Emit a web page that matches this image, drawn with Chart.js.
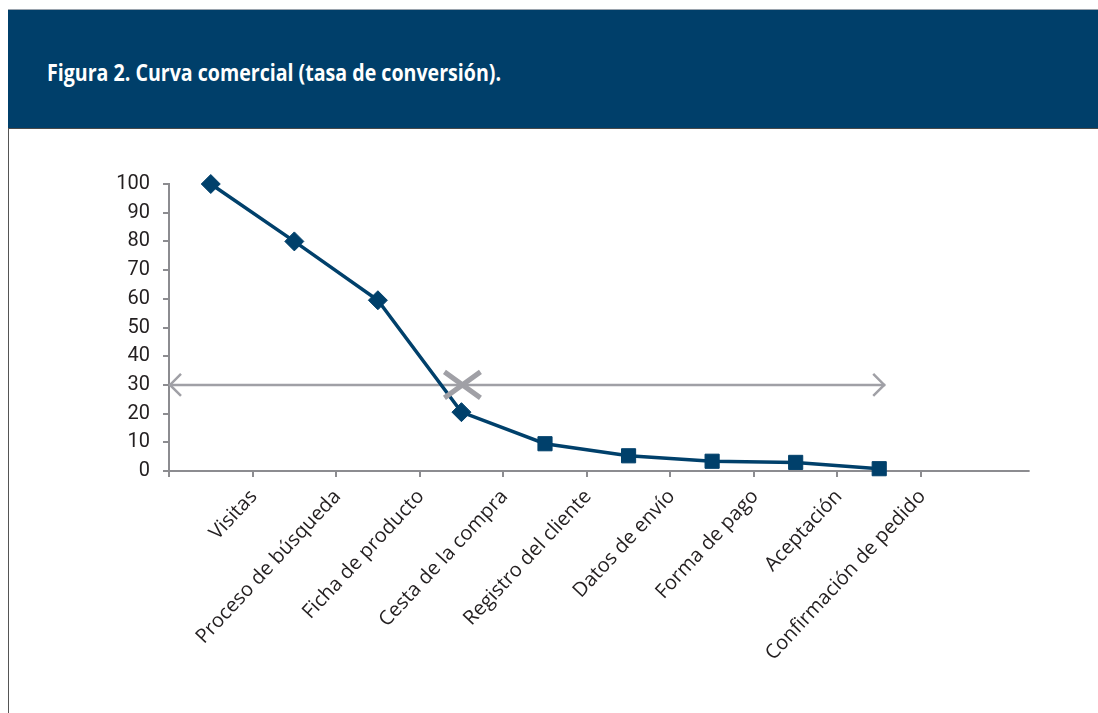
<!DOCTYPE html>
<html>
<head>
<meta charset="utf-8">
<script src="https://cdn.jsdelivr.net/npm/chart.js@4"></script>
<style>
  html, body { margin: 0; padding: 0; background: #fff; }
  body { width: 1098px; height: 713px; position: relative; overflow: hidden; }
  #topline { position: absolute; left: 8px; top: 9px; width: 1090px; height: 1px; background: #9aa3ad; }
  #header { position: absolute; left: 8px; top: 10px; width: 1090px; height: 118px; background: #003f6a; border-bottom: 1px solid #4a4a4a; }
  #title { position: absolute; left: 39px; top: 46px; color: #fff; font-family: "Open Sans", Roboto, sans-serif; font-weight: 700; font-size: 23px; white-space: nowrap; transform-origin: 0 0; }
  #leftline { position: absolute; left: 8px; top: 128px; width: 1px; height: 585px; background: #555; }
  #chart { position: absolute; left: 9px; top: 129px; }
</style>
</head>
<body>
<div id="topline"></div>
<div id="header"><span id="title">Figura 2. Curva comercial (tasa de conversión).</span></div>
<div id="leftline"></div>
<canvas id="chart" width="1089" height="584"></canvas>
<script>
// ---- data ----
const categories = ["Visitas", "Proceso de búsqueda", "Ficha de producto", "Cesta de la compra",
  "Registro del cliente", "Datos de envío", "Forma de pago", "Aceptación", "Confirmación de pedido"];
const conversionRate = [100, 80, 59.5, 20.5, 9.5, 5.3, 3.4, 3, 0.8];
const pointShapes = ["rectRot", "rectRot", "rectRot", "rectRot", "rect", "rect", "rect", "rect", "rect"];
const yTicks = [0, 10, 20, 30, 40, 50, 60, 70, 80, 90, 100];
const thresholdValue = [30];
const crossCategory = ["Cesta de la compra"];

// fit title width
(function () {
  const t = document.getElementById('title');
  const w = t.getBoundingClientRect().width;
  t.style.transform = 'scaleX(' + (454 / w) + ')';
})();

const NAVY = '#00406b';
const AXIS = '#8c8c90';
const ANNOT = '#a0a0a6';

const annotationPlugin = {
  id: 'annot',
  beforeDatasetsDraw(chart) {
    const { ctx, scales: { x, y } } = chart;
    const yy = y.getPixelForValue(thresholdValue[0]);
    const x0 = x.left;
    const x1 = x.getPixelForValue(categories.length - 1) + 6;
    ctx.save();
    ctx.strokeStyle = ANNOT;
    ctx.lineWidth = 2.5;
    ctx.beginPath();
    ctx.moveTo(x0, yy); ctx.lineTo(x1, yy);
    ctx.stroke();
    ctx.beginPath();
    ctx.moveTo(x0 + 12, yy - 11); ctx.lineTo(x0 + 1, yy); ctx.lineTo(x0 + 12, yy + 11);
    ctx.moveTo(x1 - 12, yy - 11); ctx.lineTo(x1 - 1, yy); ctx.lineTo(x1 - 12, yy + 11);
    ctx.stroke();
    // extension of x axis line
    const catW = (x.right - x.left) / categories.length;
    ctx.strokeStyle = AXIS;
    ctx.lineWidth = 2;
    ctx.beginPath();
    ctx.moveTo(x.right - 1, y.bottom);
    ctx.lineTo(x.right + catW * 1.3, y.bottom);
    ctx.stroke();
    ctx.restore();
  },
  afterDatasetsDraw(chart) {
    const { ctx, scales: { x, y } } = chart;
    const cx = x.getPixelForValue(categories.indexOf(crossCategory[0])) + 1;
    const cy = y.getPixelForValue(thresholdValue[0]);
    ctx.save();
    ctx.strokeStyle = ANNOT;
    ctx.lineWidth = 5;
    ctx.beginPath();
    ctx.moveTo(cx - 18, cy - 13); ctx.lineTo(cx + 18, cy + 13);
    ctx.moveTo(cx - 18, cy + 13); ctx.lineTo(cx + 18, cy - 13);
    ctx.stroke();
    ctx.restore();
  }
};

new Chart(document.getElementById('chart'), {
  type: 'line',
  data: {
    labels: categories,
    datasets: [{
      data: conversionRate,
      borderColor: NAVY,
      backgroundColor: NAVY,
      borderWidth: 3.5,
      tension: 0,
      clip: false,
      pointStyle: pointShapes,
      pointRadius: [9.5, 9.5, 9.5, 9.5, 10, 10, 10, 10, 10],
      pointBorderWidth: 1,
      pointBackgroundColor: NAVY,
      pointBorderColor: NAVY,
      fill: false
    }]
  },
  options: {
    responsive: false,
    animation: false,
    layout: { padding: { top: 55, right: 177, bottom: 0, left: 0 } },
    plugins: { legend: { display: false }, tooltip: { enabled: false } },
    scales: {
      x: {
        offset: true,
        grid: { offset: true, drawOnChartArea: false, drawTicks: true, tickLength: 6, color: AXIS, lineWidth: 2 },
        border: { color: AXIS, width: 2 },
        ticks: {
          autoSkip: false, minRotation: 47, maxRotation: 47,
          labelOffset: 43, padding: 8,
          color: '#231f20',
          font: { family: '"Open Sans", sans-serif', size: 20 }
        },
        afterFit(scale) { scale.height = 242; }
      },
      y: {
        min: 0, max: 100,
        afterBuildTicks(scale) { scale.ticks = yTicks.map(v => ({ value: v })); },
        grid: { drawOnChartArea: false, drawTicks: true, tickLength: 6, color: AXIS, lineWidth: 2 },
        border: { color: AXIS, width: 2 },
        ticks: {
          padding: 13,
          color: '#231f20',
          font: { family: 'Roboto, sans-serif', size: 20 }
        },
        afterFit(scale) { scale.width = 160; }
      }
    }
  },
  plugins: [annotationPlugin]
});
</script>
</body>
</html>
